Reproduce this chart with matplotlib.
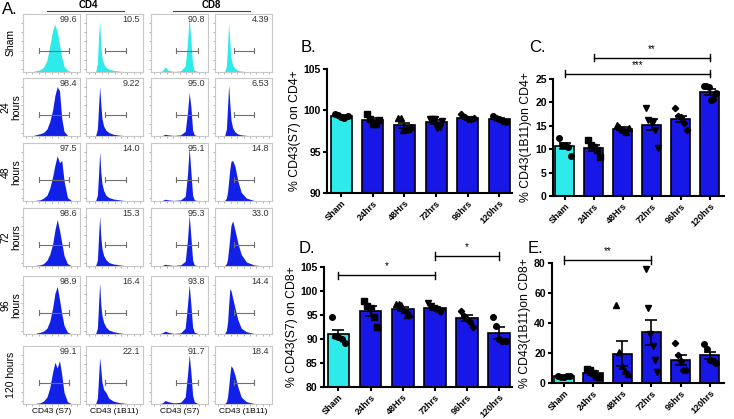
import numpy as np
import matplotlib
matplotlib.use("Agg")
import matplotlib.pyplot as plt

plt.rcParams['font.family'] = ['Liberation Sans', 'DejaVu Sans']

W, H = 734, 419
CYAN = '#2EEAEA'
BLUE = '#1717E8'
HBLUE = '#1020E6'

# ---------------- panel A: flow histograms ----------------
row_labels = ["Sham", "24\nhours", "48\nhours", "72\nhours", "96\nhours", "120 hours"]
col_xlabels = ["CD43 (S7)", "CD43 (1B11)", "CD43 (S7)", "CD43 (1B11)"]

# gated percentages, rows = time points, cols = CD4 S7, CD4 1B11, CD8 S7, CD8 1B11
pct = [["99.6", "10.5", "90.8", "4.39"],
       ["98.4", "9.22", "95.0", "6.53"],
       ["97.5", "14.0", "95.1", "14.8"],
       ["98.6", "15.3", "95.3", "33.0"],
       ["98.9", "16.4", "93.8", "14.4"],
       ["99.1", "22.1", "91.7", "18.4"]]

# histogram channel positions (fraction of the plot width) per column
bins_c1 = [0.15, 0.22, 0.3, 0.36, 0.42, 0.47, 0.52, 0.56, 0.6, 0.64, 0.68, 0.72, 0.78, 0.86]
bins_c2 = [0.12, 0.17, 0.2, 0.22, 0.24, 0.26, 0.28, 0.31, 0.35, 0.4, 0.48, 0.58, 0.7, 0.85]
bins_c3 = [0.12, 0.2, 0.25, 0.3, 0.4, 0.52, 0.6, 0.64, 0.67, 0.7, 0.73, 0.76, 0.82, 0.92]
bins_c4 = [0.12, 0.17, 0.2, 0.22, 0.24, 0.26, 0.28, 0.31, 0.35, 0.4, 0.46, 0.55, 0.68, 0.85]
hist_bins = [bins_c1, bins_c2, bins_c3, bins_c4]

# relative counts per cell [row][col]
hist_c1 = [[0, 0.02, 0.04, 0.08, 0.2, 0.45, 0.72, 0.82, 0.7, 0.48, 0.25, 0.1, 0.03, 0],
           [0, 0.02, 0.04, 0.06, 0.12, 0.25, 0.45, 0.7, 0.85, 0.78, 0.3, 0.08, 0.01, 0],
           [0, 0.01, 0.02, 0.05, 0.1, 0.22, 0.42, 0.62, 0.78, 0.66, 0.7, 0.35, 0.06, 0],
           [0, 0.01, 0.02, 0.04, 0.1, 0.2, 0.38, 0.62, 0.8, 0.62, 0.4, 0.18, 0.04, 0],
           [0, 0.01, 0.03, 0.05, 0.1, 0.22, 0.45, 0.7, 0.82, 0.6, 0.35, 0.15, 0.03, 0],
           [0, 0.01, 0.02, 0.05, 0.12, 0.28, 0.55, 0.72, 0.62, 0.75, 0.5, 0.2, 0.04, 0]]
hist_c2 = [[0, 0.01, 0.15, 0.6, 0.88, 0.45, 0.25, 0.14, 0.08, 0.05, 0.03, 0.015, 0.005, 0],
           [0, 0.01, 0.12, 0.5, 0.85, 0.55, 0.3, 0.17, 0.1, 0.06, 0.03, 0.015, 0.005, 0],
           [0, 0.01, 0.1, 0.45, 0.85, 0.5, 0.3, 0.18, 0.1, 0.06, 0.035, 0.02, 0.005, 0],
           [0, 0.01, 0.1, 0.5, 0.86, 0.5, 0.3, 0.18, 0.11, 0.06, 0.035, 0.02, 0.005, 0],
           [0, 0.01, 0.1, 0.5, 0.88, 0.5, 0.32, 0.2, 0.12, 0.07, 0.04, 0.02, 0.005, 0],
           [0, 0.01, 0.1, 0.45, 0.8, 0.6, 0.38, 0.25, 0.2, 0.1, 0.05, 0.025, 0.01, 0]]
hist_c3 = [[0, 0.02, 0.09, 0.03, 0.01, 0.02, 0.1, 0.5, 0.95, 0.55, 0.12, 0.03, 0.01, 0],
           [0, 0.01, 0.03, 0.02, 0.01, 0.02, 0.08, 0.4, 0.75, 0.5, 0.1, 0.02, 0.005, 0],
           [0, 0.01, 0.03, 0.02, 0.01, 0.02, 0.08, 0.45, 0.92, 0.5, 0.1, 0.02, 0.005, 0],
           [0, 0.01, 0.03, 0.02, 0.01, 0.02, 0.08, 0.45, 0.88, 0.5, 0.1, 0.02, 0.005, 0],
           [0, 0.02, 0.05, 0.03, 0.01, 0.02, 0.1, 0.5, 0.85, 0.5, 0.12, 0.03, 0.01, 0],
           [0, 0.02, 0.06, 0.04, 0.02, 0.03, 0.12, 0.5, 0.85, 0.55, 0.15, 0.04, 0.01, 0]]
hist_c4 = [[0, 0.01, 0.1, 0.45, 0.85, 0.5, 0.25, 0.12, 0.06, 0.03, 0.015, 0.008, 0.003, 0],
           [0, 0.01, 0.12, 0.5, 0.88, 0.55, 0.28, 0.14, 0.07, 0.035, 0.02, 0.01, 0.003, 0],
           [0, 0.01, 0.05, 0.15, 0.35, 0.55, 0.68, 0.7, 0.6, 0.35, 0.15, 0.05, 0.01, 0],
           [0, 0.01, 0.04, 0.12, 0.3, 0.5, 0.7, 0.78, 0.62, 0.4, 0.2, 0.07, 0.02, 0],
           [0, 0.01, 0.06, 0.2, 0.5, 0.78, 0.75, 0.62, 0.45, 0.25, 0.1, 0.04, 0.01, 0],
           [0, 0.01, 0.04, 0.12, 0.3, 0.5, 0.66, 0.62, 0.5, 0.3, 0.12, 0.04, 0.01, 0]]
hist_counts = [hist_c1, hist_c2, hist_c3, hist_c4]

# gate (start, end) per column
gates = [(0.28, 0.81), (0.34, 0.7), (0.44, 0.83), (0.34, 0.68)]
gate_y = 0.37

col_left = [23, 86, 151, 215]
row_top = [14, 78, 143, 208, 276, 346]
box_w, box_h = 57, 58

fig = plt.figure(figsize=(W / 100, H / 100), dpi=100)


def px_axes(x0, y0, x1, y1):
    return fig.add_axes([x0 / W, 1 - y1 / H, (x1 - x0) / W, (y1 - y0) / H])


for r in range(6):
    for c in range(4):
        ax = px_axes(col_left[c], row_top[r], col_left[c] + box_w, row_top[r] + box_h)
        color = CYAN if r == 0 else HBLUE
        ax.fill_between(hist_bins[c], 0, hist_counts[c][r], color=color, lw=0)
        ax.plot([gates[c][0], gates[c][1]], [gate_y, gate_y], color='#707070', lw=0.8)
        for gx in gates[c]:
            ax.plot([gx, gx], [gate_y - 0.04, gate_y + 0.04], color='#707070', lw=0.8)
        ax.text(0.95, 0.9, pct[r][c], ha='right', va='center', fontsize=6.5,
                transform=ax.transAxes, color='#333333')
        ax.set_xlim(0, 1)
        ax.set_ylim(0, 1)
        for s in ax.spines.values():
            s.set_color('#c8c8c8')
            s.set_linewidth(0.8)
        ax.set_xticks(np.linspace(0.05, 0.95, 9))
        ax.set_yticks(np.linspace(0.05, 0.85, 6))
        ax.tick_params(length=1.5, width=0.5, color='#909090', labelbottom=False, labelleft=False)
        if c == 0:
            fig.text(11 / W, 1 - (row_top[r] + box_h / 2) / H, row_labels[r], rotation=90,
                     ha='center', va='center', fontsize=7.5, linespacing=1.1)
        if r == 5:
            fig.text((col_left[c] + box_w / 2) / W, 1 - 411 / H, col_xlabels[c],
                     ha='center', va='center', fontsize=6)

fig.text(2 / W, 1 - 10 / H, "A.", fontsize=12, va='center')
fig.text(88 / W, 1 - 5.5 / H, "CD4", fontsize=7, fontweight='bold', ha='center', va='center')
fig.text(211 / W, 1 - 5.5 / H, "CD8", fontsize=7, fontweight='bold', ha='center', va='center')
fig.add_artist(plt.Line2D([47 / W, 124 / W], [1 - 11 / H, 1 - 11 / H], color='#444444', lw=0.8))
fig.add_artist(plt.Line2D([173 / W, 250 / W], [1 - 11 / H, 1 - 11 / H], color='#444444', lw=0.8))

# ---------------- panels B-E: bar charts ----------------
groups = ["Sham", "24hrs", "48Hrs", "72hrs", "96hrs", "120hrs"]
markers = ['o', 's', '^', 'v', 'D', 'o']

b_means = [99.3, 98.8, 98.2, 98.6, 99.1, 98.9]
b_errs = [0.1, 0.25, 0.3, 0.2, 0.15, 0.12]
b_points = [[99.5, 99.4, 99.2, 99.1, 99.3],
            [99.5, 99.0, 98.3, 98.4, 98.8],
            [99.1, 99.1, 97.6, 97.7, 97.8, 98.0],
            [99.0, 98.9, 98.9, 97.9, 98.0, 98.7],
            [99.6, 99.2, 98.9, 99.0, 99.1],
            [99.3, 99.1, 98.9, 98.7, 98.6]]

c_means = [10.7, 10.3, 14.4, 15.2, 16.5, 22.2]
c_errs = [0.6, 0.7, 0.3, 1.2, 0.7, 0.6]
c_points = [[12.4, 11.0, 10.9, 10.5, 8.6],
            [11.9, 11.0, 10.5, 9.8, 8.3],
            [15.1, 14.8, 14.4, 14.1, 13.7, 14.6],
            [18.9, 16.2, 16.0, 15.8, 14.0, 10.3],
            [18.9, 17.0, 16.8, 15.6, 14.2],
            [23.4, 23.5, 23.2, 20.5, 20.7, 22.0]]

d_means = [91.1, 95.8, 96.2, 96.4, 94.3, 91.3]
d_errs = [0.8, 1.0, 0.4, 0.3, 0.6, 1.2]
d_points = [[94.5, 90.7, 90.5, 90.1, 89.1],
            [98.0, 96.9, 96.5, 94.6, 92.4],
            [97.3, 97.2, 97.0, 96.0, 95.0, 95.3],
            [97.5, 96.8, 96.5, 96.2, 95.9, 95.7],
            [95.9, 94.8, 94.2, 93.5, 92.6],
            [94.6, 92.7, 90.0, 89.6, 89.5]]

e_means = [4.4, 6.7, 19.6, 33.8, 15.1, 18.4]
e_errs = [0.5, 1.2, 8.5, 8.5, 3.3, 2.3]
e_points = [[4.5, 4.0, 3.8, 4.8, 4.7],
            [9.5, 9.0, 6.5, 5.0, 3.8],
            [52.0, 20.7, 11.1, 8.0, 6.2],
            [76.0, 50.0, 32.7, 24.4, 15.6, 7.1],
            [26.7, 18.9, 14.4, 8.9, 8.4],
            [26.0, 22.7, 15.5, 14.5, 13.5]]

# significance brackets: (from group, to group, height, label)
c_sigs = [(1, 5, 29.5, "**"), (0, 5, 26.1, "***")]
d_sigs = [(0, 3, 103.3, "*"), (3, 5, 107.3, "*")]
e_sigs = [(0, 3, 82.0, "**")]


def bar_panel(box, letter, means, errs, points, ylim, yticks, ylabel, sigs, xlim, bw):
    ax = px_axes(*box)
    x = np.arange(len(groups))
    colors = [CYAN] + [BLUE] * (len(groups) - 1)
    ax.bar(x, [m - ylim[0] for m in means], bottom=ylim[0], width=bw, color=colors,
           edgecolor='black', linewidth=1.2, zorder=2)
    ax.errorbar(x, means, yerr=errs, fmt='none', ecolor='black', elinewidth=1.2,
                capsize=4, capthick=1.2, zorder=3)
    for i, pts in enumerate(points):
        offs = np.linspace(-0.2, 0.2, len(pts))
        ms = 3.2 if markers[i] == 'D' else 4
        ax.plot(x[i] + offs, pts, ls='none', marker=markers[i], color='black', ms=ms,
                zorder=4, clip_on=False)
    for a, b, y, lab in sigs:
        span = ylim[1] - ylim[0]
        ax.plot([a, b], [y, y], color='black', lw=1.0, clip_on=False)
        for xe in (a, b):
            ax.plot([xe, xe], [y - span * 0.03, y + span * 0.03], color='black', lw=1.0,
                    clip_on=False)
        ax.text((a + b) / 2, y + span * 0.03, lab, ha='center', va='bottom', fontsize=7)
    ax.set_xlim(*xlim)
    ax.set_ylim(*ylim)
    ax.set_yticks(yticks)
    ax.set_yticklabels([str(t) for t in yticks], fontweight='bold', fontsize=7.5)
    ax.set_xticks(x)
    ax.set_xticklabels(groups, rotation=45, ha='right', rotation_mode='anchor',
                       fontweight='bold', fontsize=6.5)
    ax.set_ylabel(ylabel, fontsize=8.8, labelpad=2)
    for s in ['top', 'right']:
        ax.spines[s].set_visible(False)
    for s in ['left', 'bottom']:
        ax.spines[s].set_linewidth(1.5)
    ax.tick_params(width=1.5, length=3, pad=1.5)
    ax.tick_params(axis='x', pad=1)
    fig.text(letter[1] / W, 1 - letter[2] / H, letter[0], fontsize=12, va='center')
    return ax


bar_panel((327, 69, 512, 193), ("B.", 301, 48), b_means, b_errs, b_points, (90, 105),
          [90, 95, 100, 105], "% CD43(S7) on CD4+", [], (-0.45, 5.4), 0.67)
bar_panel((553, 79, 724, 196), ("C.", 529, 48), c_means, c_errs, c_points, (0, 25),
          [0, 5, 10, 15, 20, 25], "% CD43(1B11)on CD4+", c_sigs, (-0.41, 5.49), 0.66)
bar_panel((324, 267, 512, 387), ("D.", 299, 248), d_means, d_errs, d_points, (80, 105),
          [80, 85, 90, 95, 100, 105], "% CD43(S7) on CD8+", d_sigs, (-0.45, 5.4), 0.67)
bar_panel((552, 263, 724, 383), ("E.", 528, 248), e_means, e_errs, e_points, (0, 80),
          [0, 20, 40, 60, 80], "% CD43(1B11)on CD8+", e_sigs, (-0.41, 5.49), 0.66)

fig.savefig("out.png", dpi=100)
